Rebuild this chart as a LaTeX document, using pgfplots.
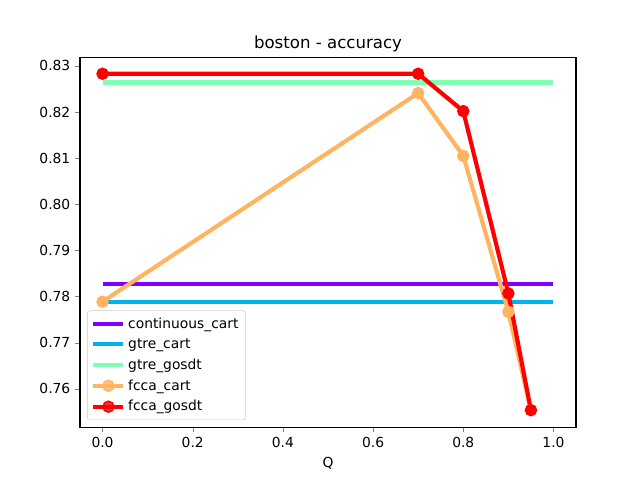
\documentclass[border=0pt]{standalone}
\usepackage{fontspec}
\setmainfont{DejaVu Sans}
\usepackage{pgfplots}
\pgfplotsset{compat=1.18}
\definecolor{rbA}{HTML}{8000FF}
\definecolor{rbB}{HTML}{00B4EB}
\definecolor{rbC}{HTML}{80FFB4}
\definecolor{rbD}{HTML}{FFB462}
\definecolor{rbE}{HTML}{FF0000}
\begin{document}
\begin{tikzpicture}
\path[use as bounding box] (-0.8in,-0.528in) rectangle (5.6in,4.272in);
\begin{axis}[
  at={(0,0)}, anchor=south west,
  scale only axis,
  width=4.96in, height=3.696in,
  xmin=-0.05, xmax=1.05,
  ymin=0.7517, ymax=0.8318,
  xtick={0,0.2,0.4,0.6,0.8,1.0},
  ytick={0.76,0.77,0.78,0.79,0.80,0.81,0.82,0.83},
  xticklabel style={/pgf/number format/.cd,fixed,fixed zerofill,precision=1},
  yticklabel style={/pgf/number format/.cd,fixed,fixed zerofill,precision=2},
  /pgf/number format/assume math mode=true,
  tick label style={font=\fontsize{10}{12}\selectfont},
  tick align=outside,
  major tick length=3.5pt,
  xtick pos=bottom, ytick pos=left,
  axis line style={line width=0.8pt},
  title={boston - accuracy},
  title style={font=\fontsize{12}{14}\selectfont, yshift=-5.5pt},
  xlabel={Q},
  xlabel style={font=\fontsize{10}{12}\selectfont},
  legend style={at={(0.014,0.019)}, anchor=south west,
    font=\fontsize{10}{12}\selectfont, draw=black!20, rounded corners=2pt,
    fill=white, fill opacity=0.8, text opacity=1, row sep=2pt,
    inner xsep=3pt, inner ysep=3pt},
  legend cell align=left,
  legend image code/.code={
    \draw[mark repeat=2,mark phase=2] plot coordinates {(0cm,0cm)(0.38cm,0cm)(0.76cm,0cm)};
  },
]
\addplot[rbA, line width=3pt] coordinates {(0,0.7828) (1,0.7828)};
\addlegendentry{continuous\_cart}
\addplot[rbB, line width=3pt] coordinates {(0,0.7789) (1,0.7789)};
\addlegendentry{gtre\_cart}
\addplot[rbC, line width=3pt] coordinates {(0,0.8264) (1,0.8264)};
\addlegendentry{gtre\_gosdt}
\addplot[rbD, line width=3pt, mark=*, mark size=4pt, mark options={solid,fill=rbD,draw=rbD,line width=1pt}] coordinates {
  (0,0.7789) (0.7,0.8241) (0.8,0.8105) (0.9,0.7767) (0.95,0.7554)};
\addlegendentry{fcca\_cart}
\addplot[rbE, line width=3pt, mark=*, mark size=4pt, mark options={solid,fill=rbE,draw=rbE,line width=1pt}] coordinates {
  (0,0.8283) (0.7,0.8283) (0.8,0.8202) (0.9,0.7807) (0.95,0.7554)};
\addlegendentry{fcca\_gosdt}
\end{axis}
\end{tikzpicture}
\end{document}
